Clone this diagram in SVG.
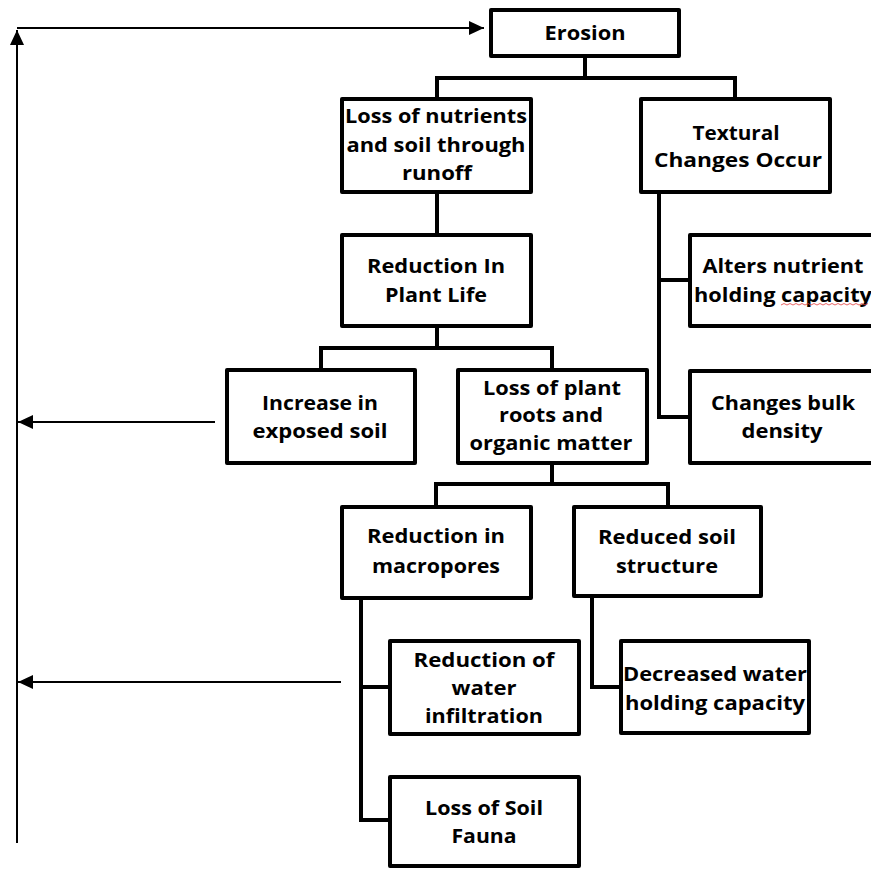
<svg xmlns="http://www.w3.org/2000/svg" width="871" height="871" viewBox="0 0 871 871">
<defs>
<style>
.box{fill:#fff;stroke:#000;stroke-width:4;stroke-linejoin:round}
.con{fill:none;stroke:#000;stroke-width:4;stroke-linejoin:miter;stroke-linecap:square}
.arr{fill:none;stroke:#000;stroke-width:2}
text{font-family:"Open Sans","Liberation Sans",Arial,sans-serif;font-weight:700;font-size:20px;text-anchor:middle;fill:#000}
</style>
<marker id="ah" markerUnits="userSpaceOnUse" markerWidth="16" markerHeight="16" refX="15" refY="7" orient="auto" viewBox="0 0 16 14">
<path d="M0,0 L15,7 L0,14 z" fill="#000"/>
</marker>
</defs>
<rect width="871" height="871" fill="#fff"/>
<g id="connectors">
<path class="con" d="M585,58 V78 M437,78 H735 M437,78 V97 M735,78 V97"/>
<path class="con" d="M437,194 V233"/>
<path class="con" d="M437,328 V348 M321,348 H552 M321,348 V368 M552,348 V368"/>
<path class="con" d="M552,465 V484 M436,484 H668 M436,484 V505 M668,484 V505"/>
<path class="con" d="M659,194 V417 M659,280 H688 M659,417 H688"/>
<path class="con" d="M361,600 V820 M361,687 H388 M361,820 H388"/>
<path class="con" d="M592,598 V687 H619"/>
<path class="arr" d="M17,843 V30" marker-end="url(#ah)"/>
<path class="arr" d="M17,28 H484" marker-end="url(#ah)"/>
<path class="arr" d="M215,422 H18" marker-end="url(#ah)"/>
<path class="arr" d="M341,682 H18" marker-end="url(#ah)"/>
</g>
<g id="erosion">
<rect class="box" x="491" y="10" width="188" height="46"/>
<text x="585" y="40" textLength="81" lengthAdjust="spacingAndGlyphs">Erosion</text>
</g>
<g id="loss-nutrients">
<rect class="box" x="342" y="99" width="189" height="93"/>
<text x="436" y="123" textLength="182" lengthAdjust="spacingAndGlyphs">Loss of nutrients</text>
<text x="436" y="152" textLength="179" lengthAdjust="spacingAndGlyphs">and soil through</text>
<text x="437" y="180" textLength="70" lengthAdjust="spacingAndGlyphs">runoff</text>
</g>
<g id="textural">
<rect class="box" x="641" y="99" width="189" height="93"/>
<text x="736" y="140" textLength="87" lengthAdjust="spacingAndGlyphs">Textural</text>
<text x="738" y="167" textLength="168" lengthAdjust="spacingAndGlyphs">Changes Occur</text>
</g>
<g id="reduction-plant-life">
<rect class="box" x="342" y="235" width="189" height="91"/>
<text x="436" y="273" textLength="138" lengthAdjust="spacingAndGlyphs">Reduction In</text>
<text x="436" y="302" textLength="102" lengthAdjust="spacingAndGlyphs">Plant Life</text>
</g>
<g id="alters-nutrient">
<rect class="box" x="690" y="235" width="195" height="91"/>
<text x="783" y="273" textLength="161" lengthAdjust="spacingAndGlyphs">Alters nutrient</text>
<text x="783" y="302" textLength="178" lengthAdjust="spacingAndGlyphs">holding capacity</text>
<path d="M781,305 l3,-1.5 l3,1.5 l3,-1.5 l3,1.5 l3,-1.5 l3,1.5 l3,-1.5 l3,1.5 l3,-1.5 l3,1.5 l3,-1.5 l3,1.5 l3,-1.5 l3,1.5 l3,-1.5 l3,1.5 l3,-1.5 l3,1.5 l3,-1.5 l3,1.5 l3,-1.5 l3,1.5 l3,-1.5 l3,1.5 l3,-1.5 l3,1.5 l3,-1.5 l3,1.5 l3,-1.5" fill="none" stroke="#e23c3c" stroke-width="0.8"/>
</g>
<g id="changes-bulk">
<rect class="box" x="690" y="371" width="195" height="92"/>
<text x="783" y="410" textLength="144" lengthAdjust="spacingAndGlyphs">Changes bulk</text>
<text x="782" y="438" textLength="81" lengthAdjust="spacingAndGlyphs">density</text>
</g>
<g id="increase-exposed">
<rect class="box" x="227" y="370" width="188" height="93"/>
<text x="320" y="410" textLength="116" lengthAdjust="spacingAndGlyphs">Increase in</text>
<text x="320" y="438" textLength="135" lengthAdjust="spacingAndGlyphs">exposed soil</text>
</g>
<g id="loss-roots">
<rect class="box" x="458" y="370" width="189" height="93"/>
<text x="552" y="395" textLength="138" lengthAdjust="spacingAndGlyphs">Loss of plant</text>
<text x="551" y="422" textLength="104" lengthAdjust="spacingAndGlyphs">roots and</text>
<text x="551" y="450" textLength="163" lengthAdjust="spacingAndGlyphs">organic matter</text>
</g>
<g id="reduction-macropores">
<rect class="box" x="342" y="507" width="189" height="91"/>
<text x="436" y="543" textLength="138" lengthAdjust="spacingAndGlyphs">Reduction in</text>
<text x="436" y="573" textLength="128" lengthAdjust="spacingAndGlyphs">macropores</text>
</g>
<g id="reduced-structure">
<rect class="box" x="574" y="507" width="187" height="89"/>
<text x="667" y="544" textLength="138" lengthAdjust="spacingAndGlyphs">Reduced soil</text>
<text x="667" y="573" textLength="102" lengthAdjust="spacingAndGlyphs">structure</text>
</g>
<g id="reduction-infiltration">
<rect class="box" x="390" y="641" width="189" height="93"/>
<text x="484" y="667" textLength="141" lengthAdjust="spacingAndGlyphs">Reduction of</text>
<text x="484" y="695" textLength="65" lengthAdjust="spacingAndGlyphs">water</text>
<text x="484" y="723" textLength="118" lengthAdjust="spacingAndGlyphs">infiltration</text>
</g>
<g id="decreased-water">
<rect class="box" x="621" y="641" width="188" height="92"/>
<text x="715" y="681" textLength="184" lengthAdjust="spacingAndGlyphs">Decreased water</text>
<text x="715" y="710" textLength="180" lengthAdjust="spacingAndGlyphs">holding capacity</text>
</g>
<g id="loss-fauna">
<rect class="box" x="390" y="777" width="189" height="89"/>
<text x="484" y="815" textLength="118" lengthAdjust="spacingAndGlyphs">Loss of Soil</text>
<text x="484" y="843" textLength="65" lengthAdjust="spacingAndGlyphs">Fauna</text>
</g>
</svg>
